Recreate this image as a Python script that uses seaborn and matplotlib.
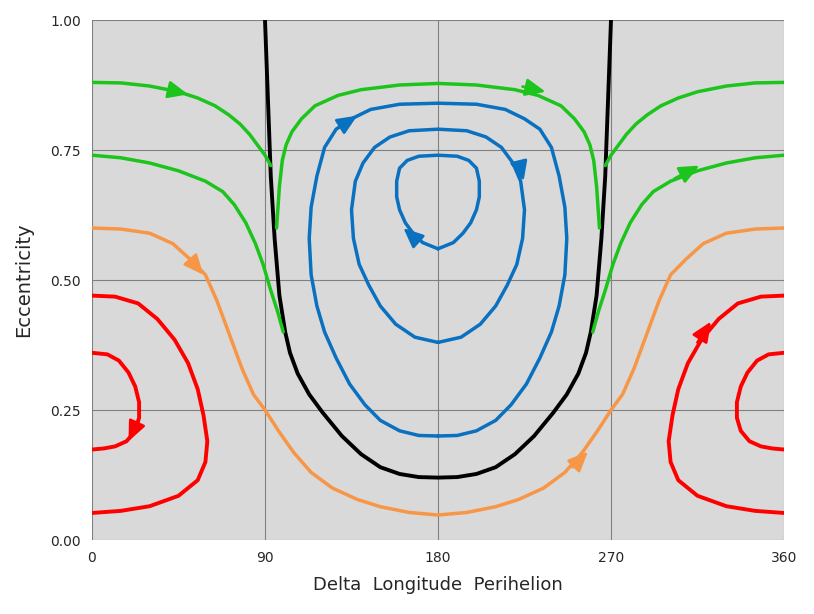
import matplotlib
matplotlib.use("Agg")
import matplotlib.pyplot as plt
import seaborn as sns
import numpy as np

black_half = [(90,1.0),(91.5,.85),(93,.70),(95,.58),(97.5,.47),(100.5,.40),(103,.36),(107,.32),(113,.28),(120,.245),(130,.20),(140,.165),(150,.14),(160,.127),(170,.121),(180,.12)]
blue_outer = [(180,.84),(160,.838),(145,.828),(135,.81),(127,.79),(121,.755),(117,.70),(114,.64),(113,.58),(114,.51),(117,.45),(121,.40),(127,.35),(134,.30),(142,.26),(150,.23),(160,.21),(170,.201),(180,.20)]
blue_mid = [(180,.79),(165,.787),(155,.775),(147,.755),(141,.725),(137,.69),(135,.635),(136,.58),(139,.53),(144,.49),(150,.45),(158,.415),(168,.39),(180,.38)]
blue_inner = [(180,.74),(170,.738),(164,.73),(160,.715),(158.5,.69),(158.5,.66),(160,.635),(163,.61),(167,.59),(172,.572),(180,.56)]
green_up_side = [(0,.88),(15,.879),(30,.873),(45,.862),(55,.85),(64,.835),(71,.818),(77,.80),(82,.78),(86,.76),(90,.74),(93,.72)]
green_up_mid = [(96,.60),(97.5,.68),(99,.73),(101,.76),(104,.785),(109,.81),(116,.835),(128,.855),(140,.866),(160,.875),(180,.878)]
green_low = [(0,.74),(15,.735),(30,.725),(45,.71),(59,.69),(68,.67),(74,.645),(80,.61),(85,.57),(89,.53),(93,.48),(96.5,.44),(99.5,.40)]
orange_half = [(0,.6),(15,.598),(30,.59),(42,.57),(51,.54),(59,.51),(65,.46),(72,.39),(78,.33),(84,.28),(90,.25),(97,.21),(105,.168),(114,.13),(125,.10),(138,.078),(150,.064),(165,.053),(180,.048)]
red_outer = [(0,.47),(12,.468),(24,.455),(34,.425),(43,.385),(50,.34),(55,.29),(58,.24),(60,.19),(59,.15),(55,.115),(45,.085),(30,.065),(15,.056),(0,.052)]
red_inner = [(0,.36),(8,.357),(14,.345),(19,.322),(22.5,.295),(24.5,.265),(24.5,.235),(22.5,.21),(18,.19),(12,.18),(6,.176),(0,.174)]

GREEN, BLUE, ORANGE, RED = "#1cc41c", "#0a70c0", "#f79646", "#ff0000"

def mirror(pts):
    return [(360 - x, y) for x, y in pts]

def sym(half):
    return half + mirror(half)[::-1][1:]

sns.set_style("white")
fig = plt.figure(figsize=(8.14, 6.14), dpi=100)
ax = fig.add_axes([92/814, 74/614, 692/814, 520/614])
ax.set_facecolor("#d9d9d9")

def line(pts, c, lw=2.5):
    a = np.array(pts)
    ax.plot(a[:, 0], a[:, 1], color=c, lw=lw, solid_capstyle="round", solid_joinstyle="round")

def arrow(p0, p1, c):
    ax.annotate("", xy=p1, xytext=p0,
                arrowprops=dict(arrowstyle="-|>,head_length=0.8,head_width=0.35", color=c, lw=2,
                                mutation_scale=15, shrinkA=0, shrinkB=0))

ax.set_xlim(0, 360); ax.set_ylim(0, 1)
line(sym(black_half), "black", 2.8)
line(sym(blue_outer[::-1]), BLUE)
line(sym(blue_mid[::-1]), BLUE)
line(sym(blue_inner[::-1]), BLUE)
line(green_up_side, GREEN); line(mirror(green_up_side), GREEN)
line(sym(green_up_mid), GREEN)
line(green_low, GREEN); line(mirror(green_low), GREEN)
line(sym(orange_half), ORANGE)
line(red_outer, RED, 2.8); line(mirror(red_outer), RED, 2.8)
line(red_inner, RED, 2.8); line(mirror(red_inner), RED, 2.8)

arrow((40, .866), (50, .857), GREEN)
arrow((224, .872), (236, .862), GREEN)
arrow((303, .695), (316, .72), GREEN)
arrow((129, .795), (138, .816), BLUE)
arrow((222.5, .72), (224.5, .69), BLUE)
arrow((168, .58), (162, .60), BLUE)
arrow((51, .54), (58, .51), ORANGE)
arrow((250, .14), (258, .17), ORANGE)
arrow((24, .23), (19, .19), RED)
arrow((315, .38), (322, .42), RED)

ax.set_xticks([0, 90, 180, 270, 360]); ax.set_xticklabels(["0", "90", "180", "270", "360"])
ax.set_yticks([0, .25, .5, .75, 1.0]); ax.set_yticklabels(["0.00", "0.25", "0.50", "0.75", "1.00"])
ax.grid(True, color="#808080", lw=0.8)
ax.set_axisbelow(True)
for s in ax.spines.values():
    s.set_visible(False)
ax.tick_params(length=0, labelsize=10, pad=8)
ax.set_xlabel("Delta  Longitude  Perihelion", fontsize=13, labelpad=8)
ax.set_ylabel("Eccentricity", fontsize=14, labelpad=12)
fig.savefig("out.png", dpi=100)
